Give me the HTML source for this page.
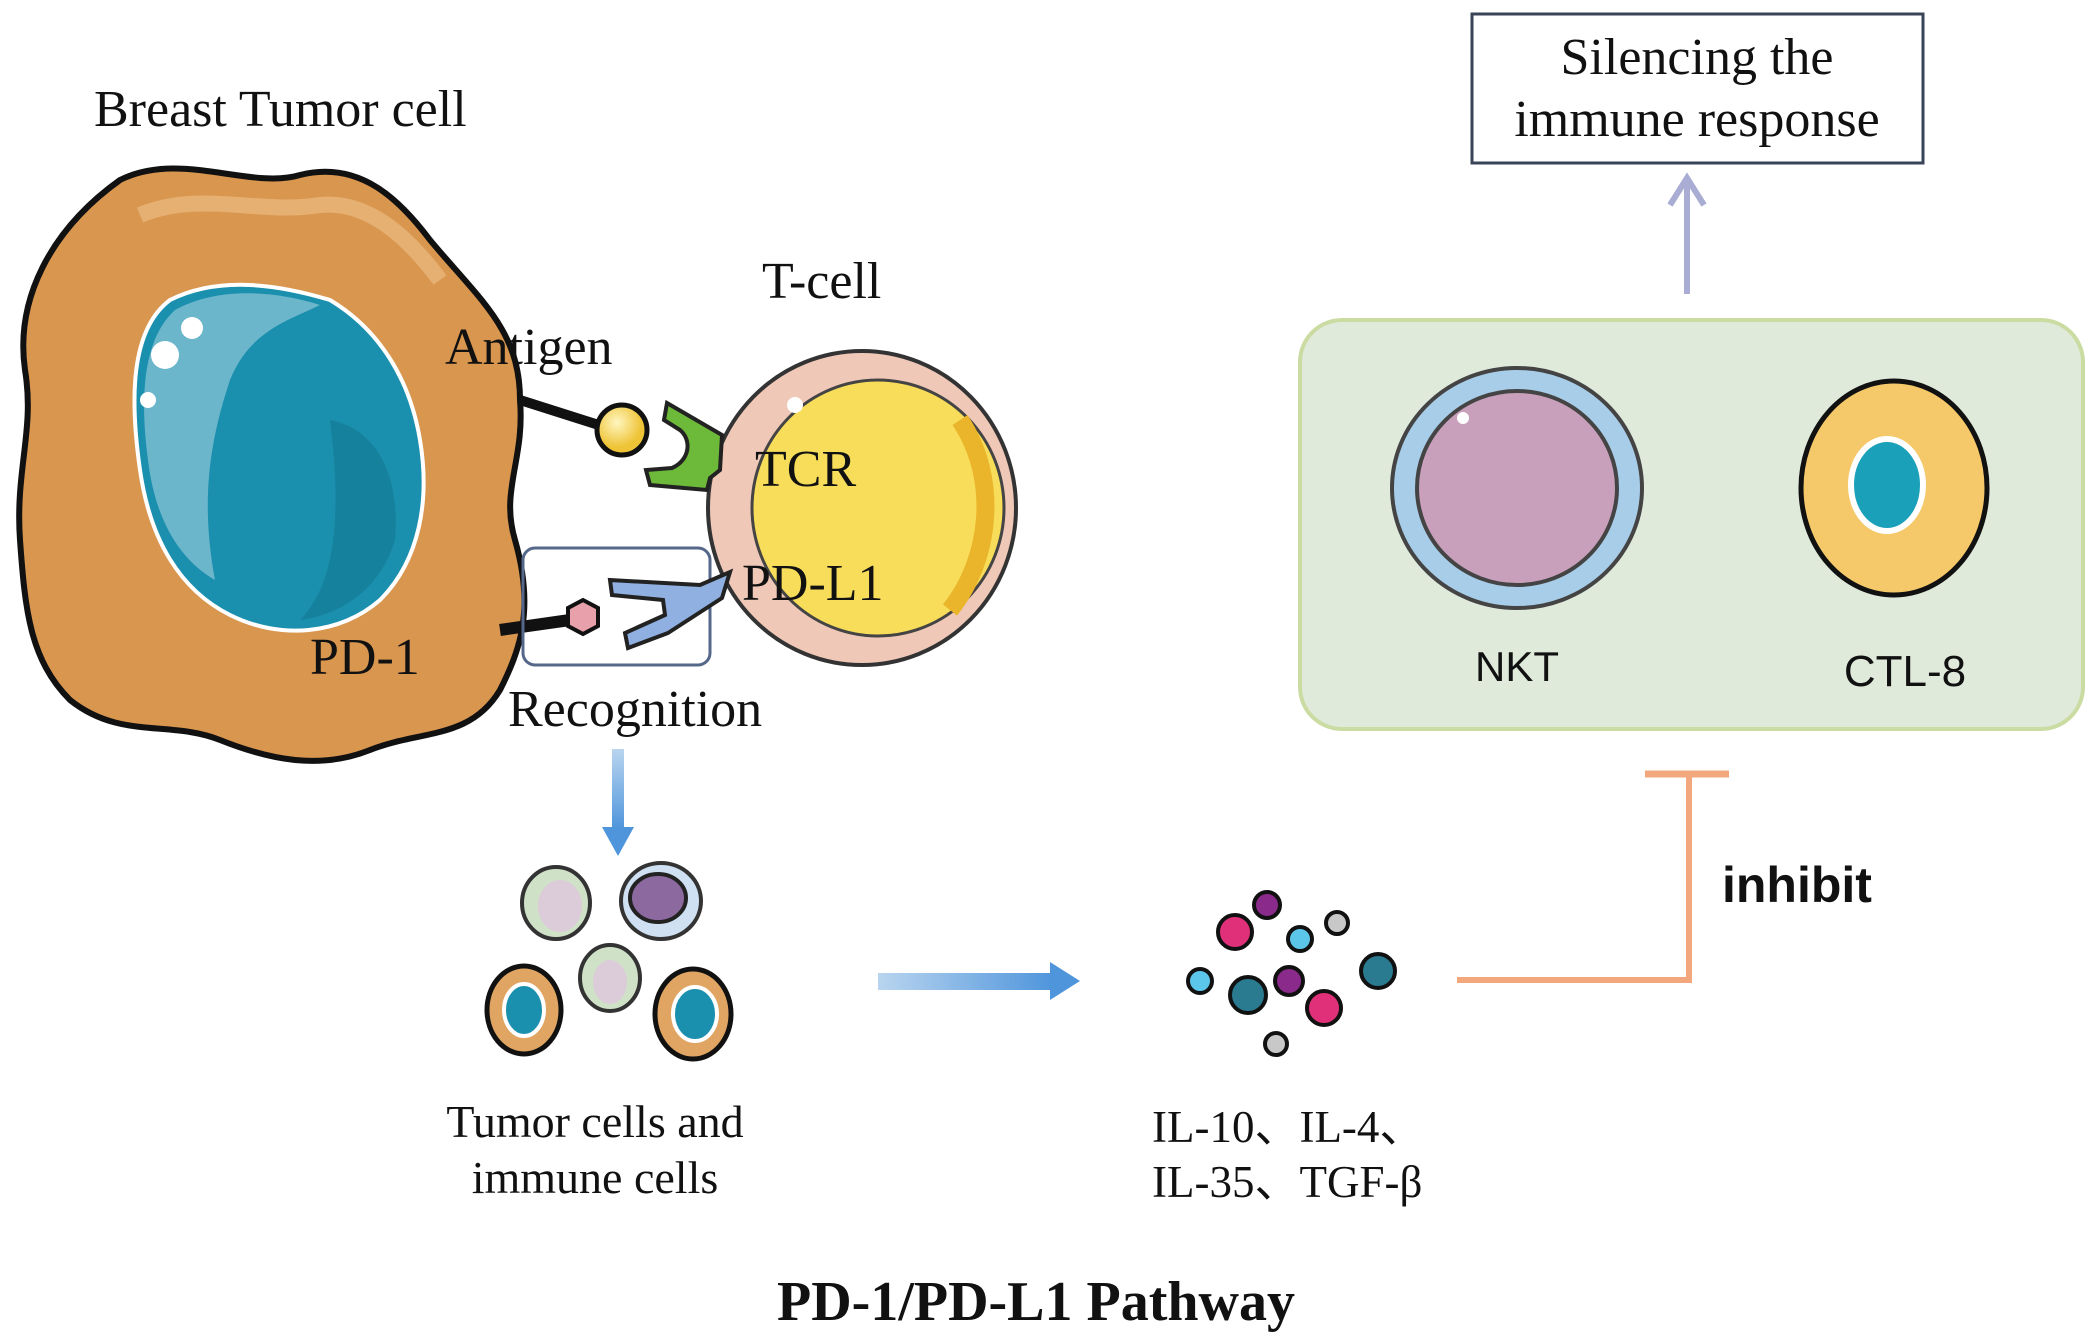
<!DOCTYPE html>
<html><head><meta charset="utf-8"><style>
html,body{margin:0;padding:0;background:#fff;}
svg{display:block;}
.s{font-family:"Liberation Serif",serif;fill:#111;}
.a{font-family:"Liberation Sans",sans-serif;fill:#111;}
</style></head><body>
<svg width="2096" height="1342" viewBox="0 0 2096 1342" xmlns="http://www.w3.org/2000/svg">
<defs>
<linearGradient id="ha" x1="0" x2="1"><stop offset="0" stop-color="#b9d5ef"/><stop offset="1" stop-color="#4f95dc"/></linearGradient>
<linearGradient id="va" x1="0" y1="0" x2="0" y2="1"><stop offset="0" stop-color="#b9d5ef"/><stop offset="1" stop-color="#4f95dc"/></linearGradient>
<radialGradient id="yb" cx="0.4" cy="0.35"><stop offset="0" stop-color="#fff6c0"/><stop offset="1" stop-color="#eec336"/></radialGradient>
</defs>

<!-- Tumor cell -->
<text class="s" x="94" y="126" font-size="52">Breast Tumor cell</text>
<path d="M120,180 C180,150 250,190 300,175 C360,160 400,200 430,240 C480,300 520,330 520,400 C525,460 500,490 515,540 C535,610 520,650 500,690 C470,740 420,730 370,750 C320,770 270,760 220,740 C170,720 120,740 70,700 C30,660 25,610 20,540 C15,470 35,430 25,370 C15,300 50,230 120,180 Z" fill="#d9964f" stroke="#111" stroke-width="6"/>
<path d="M140,215 C200,190 260,215 320,205 C370,200 410,240 440,280" fill="none" stroke="#e8b67c" stroke-width="16" opacity="0.8"/>
<path d="M170,300 C220,275 280,285 330,300 C380,330 410,380 420,440 C430,500 420,560 380,600 C340,635 280,640 230,615 C180,590 150,540 140,470 C130,400 130,330 170,300 Z" fill="#1b8fae" stroke="#fff" stroke-width="4"/>
<path d="M175,310 C220,285 280,292 320,305 C290,320 250,330 230,380 C210,440 200,500 215,580 C180,560 155,520 148,460 C140,400 142,340 175,310 Z" fill="#7fbfd2" opacity="0.8"/>
<path d="M330,420 C380,430 400,480 395,540 C380,590 340,615 300,620 C340,580 340,500 330,420 Z" fill="#147d98" opacity="0.8"/>
<circle cx="165" cy="355" r="14" fill="#fff"/><circle cx="192" cy="328" r="11" fill="#fff"/><circle cx="148" cy="400" r="8" fill="#fff"/>

<!-- connectors -->
<line x1="520" y1="400" x2="605" y2="427" stroke="#111" stroke-width="10"/>
<circle cx="622" cy="430" r="25" fill="url(#yb)" stroke="#111" stroke-width="5"/>
<line x1="500" y1="630" x2="570" y2="620" stroke="#111" stroke-width="12"/>
<polygon points="583,600 598,608 598,626 583,634 568,626 568,608" fill="#e8a0aa" stroke="#111" stroke-width="4"/>

<!-- Recognition box -->
<rect x="523" y="548" width="187" height="117" rx="12" fill="none" stroke="#55688a" stroke-width="3"/>

<!-- T-cell -->
<text class="s" x="762" y="298" font-size="52">T-cell</text>
<ellipse cx="862" cy="508" rx="154" ry="157" fill="#efc8b8" stroke="#333" stroke-width="4"/>
<ellipse cx="878" cy="508" rx="126" ry="128" fill="#f7dd5a" stroke="#444" stroke-width="3"/>
<path d="M960,420 C1000,480 990,560 950,610" fill="none" stroke="#eab52a" stroke-width="18"/>
<circle cx="795" cy="405" r="8" fill="#fff"/>

<!-- TCR green -->
<path d="M667,403 L722,435 L720,470 L710,478 L707,490 L650,485 L646,470 L672,468 C690,460 692,440 680,430 L664,420 Z" fill="#6dba3a" stroke="#222" stroke-width="4"/>
<!-- PD-L1 blue -->
<path d="M610,580 L700,585 L730,572 L722,598 L668,633 L628,648 L625,633 L665,615 L663,600 L612,595 Z" fill="#8fb0e0" stroke="#222" stroke-width="4"/>

<text class="s" x="755" y="486" font-size="52">TCR</text>
<text class="s" x="742" y="600" font-size="52">PD-L1</text>
<text class="s" x="445" y="364" font-size="52">Antigen</text>
<text class="s" x="310" y="674" font-size="52">PD-1</text>
<text class="s" x="508" y="726" font-size="52">Recognition</text>

<!-- down arrow -->
<rect x="612" y="749" width="12" height="80" fill="url(#va)"/>
<polygon points="602,827 634,827 618,856" fill="#4f95dc"/>

<!-- small cells -->
<g stroke="#333" stroke-width="4">
<ellipse cx="556" cy="903" rx="34" ry="36" fill="#cfe2c8"/>
<ellipse cx="560" cy="906" rx="22" ry="26" fill="#dccbd8" stroke="none"/>
<ellipse cx="661" cy="901" rx="40" ry="38" fill="#cfe0f3"/>
<ellipse cx="658" cy="898" rx="28" ry="24" fill="#8c6aa0" stroke="#222"/>
<ellipse cx="610" cy="978" rx="30" ry="33" fill="#cfe2c8"/>
<ellipse cx="610" cy="982" rx="17" ry="22" fill="#dccbd8" stroke="none"/>
<ellipse cx="524" cy="1010" rx="37" ry="44" fill="#e0a562" stroke="#111" stroke-width="5"/>
<ellipse cx="524" cy="1010" rx="20" ry="26" fill="#1b8fae" stroke="#fff"/>
<ellipse cx="693" cy="1014" rx="38" ry="45" fill="#e0a562" stroke="#111" stroke-width="5"/>
<ellipse cx="695" cy="1014" rx="22" ry="27" fill="#1b8fae" stroke="#fff"/>
</g>
<text class="s" x="595" y="1137" font-size="46" text-anchor="middle">Tumor cells and</text>
<text class="s" x="595" y="1193" font-size="46" text-anchor="middle">immune cells</text>

<!-- horizontal arrow -->
<rect x="878" y="973" width="175" height="17" fill="url(#ha)"/>
<polygon points="1050,962 1080,981 1050,1000" fill="#4f95dc"/>

<!-- dots -->
<g stroke="#111" stroke-width="4">
<circle cx="1267" cy="905" r="13" fill="#8a2a8a"/>
<circle cx="1235" cy="932" r="17" fill="#e0307a"/>
<circle cx="1337" cy="923" r="11" fill="#c8c8c8"/>
<circle cx="1300" cy="939" r="12" fill="#5cc6ea"/>
<circle cx="1378" cy="971" r="17" fill="#2a7a90"/>
<circle cx="1200" cy="981" r="12" fill="#5cc6ea"/>
<circle cx="1248" cy="995" r="18" fill="#2a7a90"/>
<circle cx="1289" cy="981" r="14" fill="#8a2a8a"/>
<circle cx="1324" cy="1008" r="17" fill="#e0307a"/>
<circle cx="1276" cy="1044" r="11" fill="#c8c8c8"/>
</g>
<text class="s" x="1152" y="1142" font-size="45">IL-10、IL-4、</text>
<text class="s" x="1152" y="1197" font-size="45">IL-35、TGF-β</text>

<!-- inhibit -->
<polyline points="1457,980 1689,980 1689,775" fill="none" stroke="#f2a77c" stroke-width="6"/>
<line x1="1645" y1="774" x2="1729" y2="774" stroke="#f2a77c" stroke-width="7"/>
<text class="a" x="1722" y="902" font-size="50" font-weight="bold">inhibit</text>

<!-- green box -->
<rect x="1300" y="320" width="783" height="409" rx="42" fill="#dfeadb" stroke="#cadca2" stroke-width="4"/>
<ellipse cx="1517" cy="488" rx="125" ry="120" fill="#a8cde8" stroke="#444" stroke-width="4"/>
<ellipse cx="1517" cy="488" rx="100" ry="97" fill="#c9a0bb" stroke="#444" stroke-width="4"/>
<circle cx="1463" cy="418" r="6" fill="#fff"/>
<text class="a" x="1517" y="681" font-size="42" text-anchor="middle">NKT</text>
<ellipse cx="1894" cy="488" rx="93" ry="107" fill="#f5c96a" stroke="#111" stroke-width="5"/>
<ellipse cx="1887" cy="485" rx="36" ry="46" fill="#1aa0b8" stroke="#fff" stroke-width="6"/>
<text class="a" x="1905" y="686" font-size="44" text-anchor="middle">CTL-8</text>

<!-- up arrow -->
<line x1="1687" y1="294" x2="1687" y2="180" stroke="#a9acd3" stroke-width="6"/>
<polyline points="1670,205 1687,178 1704,205" fill="none" stroke="#a9acd3" stroke-width="6"/>

<!-- silencing box -->
<rect x="1472" y="14" width="451" height="149" fill="#fff" stroke="#3a4458" stroke-width="3"/>
<text class="s" x="1697" y="74" font-size="52" text-anchor="middle">Silencing the</text>
<text class="s" x="1697" y="136" font-size="52" text-anchor="middle">immune response</text>

<text class="s" x="1036" y="1320" font-size="56" font-weight="bold" text-anchor="middle">PD-1/PD-L1 Pathway</text>
</svg>
</body></html>
